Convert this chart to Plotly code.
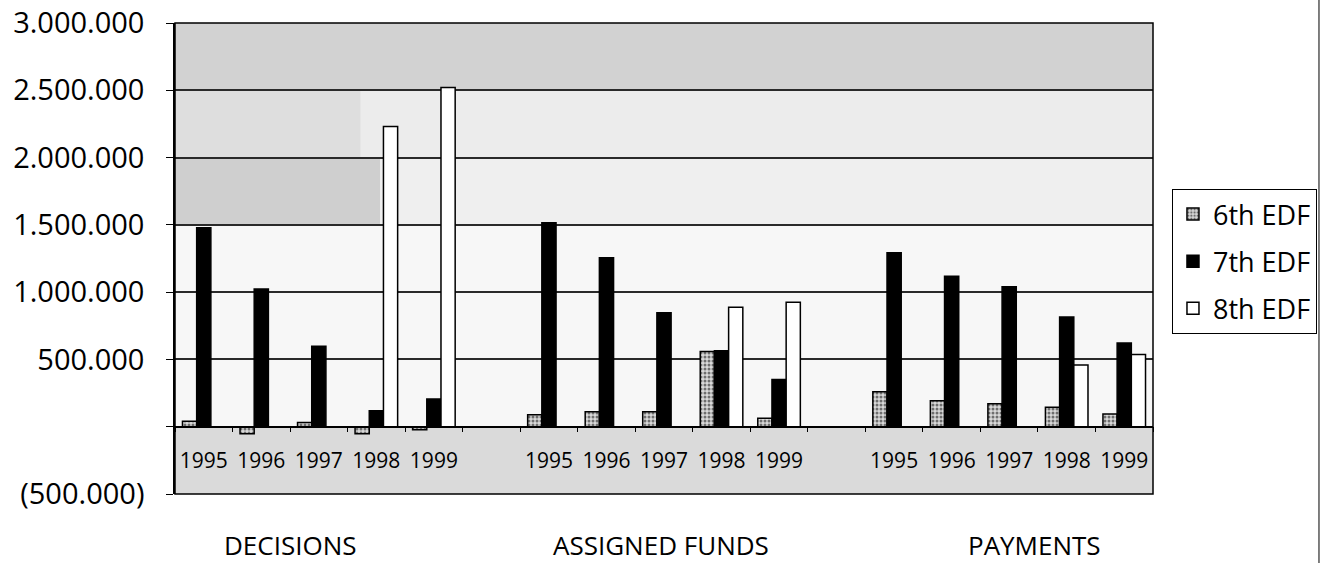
import plotly.graph_objects as go

# ---------------- data ----------------
years = ["1995", "1996", "1997", "1998", "1999"]
groups = ["DECISIONS", "ASSIGNED FUNDS", "PAYMENTS"]
series_names = ["6th EDF", "7th EDF", "8th EDF"]

decisions_6th = [40000, -52000, 32000, -52000, -22000]
decisions_7th = [1478000, 1024000, 598000, 119000, 206000]
decisions_8th = [0, 0, 0, 2230000, 2520000]

assigned_6th = [89000, 112000, 112000, 558000, 62000]
assigned_7th = [1516000, 1255000, 846000, 565000, 350000]
assigned_8th = [0, 0, 0, 888000, 925000]

payments_6th = [260000, 193000, 171000, 144000, 94000]
payments_7th = [1292000, 1119000, 1040000, 816000, 623000]
payments_8th = [0, 0, 0, 459000, 536000]

y_tickvals = [-500000, 0, 500000, 1000000, 1500000, 2000000, 2500000, 3000000]
y_ticktext = ["(500.000)", "", "500.000", "1.000.000", "1.500.000",
              "2.000.000", "2.500.000", "3.000.000"]

# --------------- build categories (with gap slots between groups) -----------
values = {
    "6th EDF": [decisions_6th, assigned_6th, payments_6th],
    "7th EDF": [decisions_7th, assigned_7th, payments_7th],
    "8th EDF": [decisions_8th, assigned_8th, payments_8th],
}

categories, cat_labels = [], []
for gi, g in enumerate(groups):
    if gi > 0:
        categories.append(f"gap{gi}")
        cat_labels.append("")
    for yr in years:
        categories.append(f"{g} {yr}")
        cat_labels.append(yr)


def series_y(name):
    out = []
    for gi, g in enumerate(groups):
        if gi > 0:
            out.append(None)
        out.extend(values[name][gi])
    return out


FONT = "Open Sans"
styles = {
    "6th EDF": dict(color="white",
                    pattern=dict(shape=".", fgcolor="#6e6e6e", bgcolor="#d9d9d9",
                                 size=4, solidity=0.45, fillmode="replace")),
    "7th EDF": dict(color="black"),
    "8th EDF": dict(color="white"),
}

fig = go.Figure()
for name in series_names:
    fig.add_trace(go.Bar(
        x=categories, y=series_y(name), name=name, legendgroup=name,
        marker=dict(**styles[name], line=dict(color="black", width=1.5)),
    ))

ymin, ymax = y_tickvals[0], y_tickvals[-1]
zero_pos = (0 - ymin) / (ymax - ymin)

# background tonal bands imitating the stippled scan background
bands = [
    (2500000, 3000000, 0.0, 1.0, "#d2d2d2"),
    (2000000, 2500000, 0.0, 0.19, "#dedede"),
    (2000000, 2500000, 0.19, 1.0, "#ececec"),
    (1500000, 2000000, 0.0, 0.21, "#cfcfcf"),
    (1500000, 2000000, 0.21, 1.0, "#efefef"),
    (0, 1500000, 0.0, 1.0, "#f7f7f7"),
    (-500000, 0, 0.0, 1.0, "#dadada"),
]
shapes = []
for y0, y1, x0, x1, c in bands:
    shapes.append(dict(type="rect", xref="paper", yref="y", x0=x0, x1=x1,
                       y0=y0, y1=y1, fillcolor=c, line=dict(width=0), layer="below"))
# plot border
shapes.append(dict(type="rect", xref="paper", yref="paper", x0=0, x1=1, y0=0, y1=1,
                   line=dict(color="black", width=1.5), layer="above"))
# page edge line on the right
shapes.append(dict(type="line", xref="paper", yref="paper", x0=1.1697, x1=1.1697,
                   y0=-0.15, y1=1.05, line=dict(color="#555555", width=1.5)))

group_shift = [-28, -3, 25]
annotations = []
for gi, g in enumerate(groups):
    annotations.append(dict(
        text=g, x=f"{g} {years[2]}", xref="x", y=-0.108, yref="paper",
        xshift=group_shift[gi], showarrow=False, yanchor="middle",
        font=dict(family=FONT, size=26, color="black"),
    ))

fig.update_layout(
    width=1323, height=563,
    margin=dict(l=175, r=170, t=23, b=69, autoexpand=False),
    paper_bgcolor="white", plot_bgcolor="white",
    barmode="group", bargap=0.26, bargroupgap=0.0,
    font=dict(family=FONT, color="black"),
    shapes=shapes, annotations=annotations,
    legend=dict(
        x=1.0194, y=0.6476, xanchor="left", yanchor="top",
        bordercolor="black", borderwidth=1, bgcolor="white",
        font=dict(family=FONT, size=27, color="black"),
        traceorder="grouped", tracegroupgap=9,
    ),
    xaxis=dict(
        type="category", categoryorder="array", categoryarray=categories,
        tickmode="array", tickvals=categories, ticktext=cat_labels,
        tickson="boundaries", ticks="outside", ticklen=5, tickcolor="black",
        anchor="free", position=zero_pos, automargin=False,
        showline=True, linecolor="black", linewidth=1.5,
        showgrid=False, zeroline=False,
        tickfont=dict(family=FONT, size=21, color="black"),
        ticklabelstandoff=15,
    ),
    yaxis=dict(
        range=[ymin, ymax], tickmode="array", tickvals=y_tickvals, ticktext=y_ticktext,
        ticks="outside", ticklen=7, tickcolor="black", automargin=False,
        ticklabeloverflow="allow",
        showgrid=True, gridcolor="#2a2a2a", gridwidth=1.5,
        zeroline=False, showline=True, linecolor="black", linewidth=1.5,
        tickfont=dict(family=FONT, size=29, color="black"),
        ticklabelstandoff=16,
    ),
)

# remove the browser's default 8px body margin so the figure fills the window exactly
fig.write_html("out.html", config={"displayModeBar": False},
               post_script="document.body.style.margin='0';")
